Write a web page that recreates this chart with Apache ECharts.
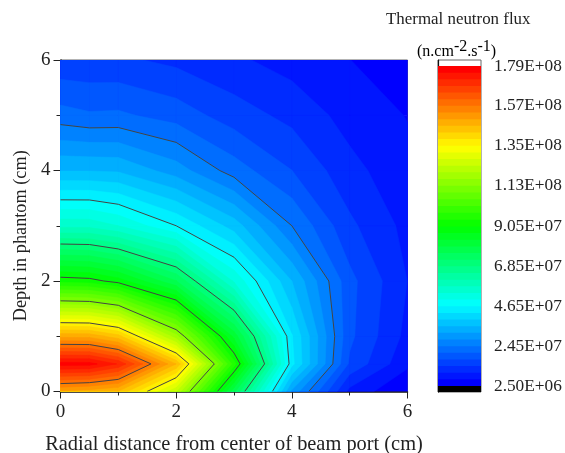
<!DOCTYPE html>
<html><head><meta charset="utf-8">
<script src="https://cdn.jsdelivr.net/npm/echarts@6/dist/echarts.min.js"></script>
<style>html,body{margin:0;padding:0;background:#fff}#c{width:565px;height:453px}</style>
</head><body><div id="c"></div>
<script>
// radial positions (cm) and depths (cm) of the sampled flux table
const radial = [0, 0.5, 1, 2, 3, 4, 5, 6];
const depth = [0, 0.5, 1, 2, 3, 4, 5, 6];
// flux, in units of 1E+06 n.cm-2.s-1, one list per depth
const fluxD0 = [149, 147.7, 145.8, 124, 77, 31, 8.7, 2.7];
const fluxD05 = [177, 176.8, 171.3, 146, 96, 44, 16.5, 6.9];
const fluxD1 = [148.7, 148.5, 143.8, 118, 82, 43.1, 18, 8.7];
const fluxD2 = [93, 92.2, 88.8, 76, 53.3, 35.5, 18.3, 9.8];
const fluxD3 = [56.4, 56.3, 53.8, 46.5, 37.5, 24.5, 14.3, 8.7];
const fluxD4 = [35.3, 35.3, 35, 30, 22.7, 17.2, 11, 7.3];
const fluxD5 = [22.3, 21.3, 21.5, 19.2, 15.3, 12.4, 8.4, 6];
const fluxD6 = [14.4, 14.3, 14.2, 12.6, 10.5, 8.3, 6.2, 4.6];
const fluxRows = [fluxD0, fluxD05, fluxD1, fluxD2, fluxD3, fluxD4, fluxD5, fluxD6];
// colour scale ticks
const tickValues = [2.5, 24.5, 46.5, 68.5, 90.5, 113, 135, 157, 179];
const tickLabels = ['2.50E+06', '2.45E+07', '4.65E+07', '6.85E+07', '9.05E+07', '1.13E+08', '1.35E+08', '1.57E+08', '1.79E+08'];
const lineLevels = [24.5, 46.5, 68.5, 90.5, 113, 135, 157];
const bandsPerTick = 6;

const bandCount = (tickValues.length - 1) * bandsPerTick;
const levelAt = k => {
  const i = Math.floor(k / bandsPerTick);
  if (i >= tickValues.length - 1) return tickValues[tickValues.length - 1];
  return tickValues[i] + (tickValues[i + 1] - tickValues[i]) * (k % bandsPerTick) / bandsPerTick;
};
const jet = [[0, 0, 255], [0, 255, 255], [0, 255, 0], [255, 255, 0], [255, 0, 0]];
const bandColor = k => {
  const t = k / (bandCount - 1) * (jet.length - 1);
  const i = Math.min(Math.floor(t), jet.length - 2), f = t - i;
  const c = jet[i].map((v, n) => Math.round(v + (jet[i + 1][n] - v) * f));
  return 'rgb(' + c.join(',') + ')';
};

// each table cell is a quad; contours join straight crossings on its edges
const quads = [];
for (let j = 0; j < depth.length - 1; j++) {
  for (let i = 0; i < radial.length - 1; i++) {
    const n = (a, b) => ({ x: radial[a], y: depth[b], v: fluxRows[b][a] });
    quads.push([n(i, j), n(i + 1, j), n(i + 1, j + 1), n(i, j + 1)]);
  }
}
const cross = (a, b, L) => {
  const f = (L - a.v) / (b.v - a.v);
  return { x: a.x + (b.x - a.x) * f, y: a.y + (b.y - a.y) * f, v: L };
};
const clipAbove = (poly, L) => {
  const out = [];
  poly.forEach((a, i) => {
    const b = poly[(i + 1) % poly.length];
    if (a.v >= L) out.push(a);
    if ((a.v >= L) !== (b.v >= L)) out.push(cross(a, b, L));
  });
  return out;
};
const crossings = (poly, L) => {
  const out = [];
  poly.forEach((a, i) => {
    const b = poly[(i + 1) % poly.length];
    if ((a.v >= L) !== (b.v >= L)) out.push(cross(a, b, L));
  });
  return out;
};

const bandData = [];
for (let k = 0; k < bandCount; k++) bandData.push([k]);
const barData = [[-100, tickValues[0], 'black']];
for (let k = 0; k < bandCount; k++) barData.push([levelAt(k), levelAt(bandCount), k]);

const chart = echarts.init(document.getElementById('c'), null, { renderer: 'canvas' });
const serif = '"Liberation Serif", "Times New Roman", serif';
chart.setOption({
  animation: false,
  backgroundColor: '#fff',
  textStyle: { fontFamily: serif },
  grid: [
    { left: 60.5, top: 60, width: 347, height: 331.5, show: true, outerBoundsMode: 'none', containLabel: false, borderColor: '#666', borderWidth: 1, backgroundColor: 'transparent' },
    { left: 438, top: 60, width: 43, height: 332, show: true, outerBoundsMode: 'none', containLabel: false, borderColor: '#666', borderWidth: 1, backgroundColor: 'transparent' }
  ],
  xAxis: [
    { type: 'value', gridIndex: 0, min: 0, max: 6, interval: 2, splitLine: { show: false },
      name: 'Radial distance from center of beam port (cm)', nameLocation: 'middle', nameGap: 43,
      nameTextStyle: { fontFamily: serif, fontSize: 20.4, color: '#222' },
      axisLine: { show: true, onZero: false, lineStyle: { color: '#111', width: 1.5 } },
      axisTick: { show: true, length: 7, lineStyle: { color: '#222', width: 1 } },
      minorTick: { show: true, splitNumber: 2, length: 4, lineStyle: { color: '#222', width: 1 } },
      axisLabel: { fontFamily: serif, fontSize: 19, color: '#222', margin: 11, showMinLabel: true, showMaxLabel: true } },
    { type: 'value', gridIndex: 1, min: 0, max: 1, show: false }
  ],
  yAxis: [
    { type: 'value', gridIndex: 0, min: 0, max: 6, interval: 2, splitLine: { show: false },
      name: 'Depth in phantom (cm)', nameLocation: 'middle', nameGap: 26,
      nameTextStyle: { fontFamily: serif, fontSize: 18.3, color: '#222', padding: [0, 20, 0, 0] },
      axisLine: { show: true, onZero: false, lineStyle: { color: '#111', width: 1.5 } },
      axisTick: { show: true, length: 7, lineStyle: { color: '#222', width: 1 } },
      minorTick: { show: true, splitNumber: 2, length: 4, lineStyle: { color: '#222', width: 1 } },
      axisLabel: { fontFamily: serif, fontSize: 19, color: '#222', margin: 10, showMinLabel: true, showMaxLabel: true } },
    { type: 'value', gridIndex: 1, position: 'right', min: -0.8, max: 182.3, splitLine: { show: false },
      axisLine: { show: true, lineStyle: { color: '#111', width: 1.2 } },
      axisTick: { show: true, length: 6, customValues: tickValues, lineStyle: { color: '#222', width: 1 } },
      axisLabel: { fontFamily: serif, fontSize: 17.3, color: '#222', margin: 13, customValues: tickValues,
        formatter: v => tickLabels[tickValues.indexOf(v)] } }
  ],
  graphic: [
    { type: 'text', left: 386, top: 11, style: { text: 'Thermal neutron flux', font: '16.9px ' + serif, fill: '#222' } },
    { type: 'text', left: 417, top: 39, style: {
        text: '{a|(n.cm}{s|-2}{a|.s}{s|-1}{a|)}',
        rich: {
          a: { fontFamily: serif, fontSize: 16, color: '#222' },
          s: { fontFamily: serif, fontSize: 16, color: '#222', padding: [0, 0, 9, 0] }
        } } }
  ],
  series: [
    { type: 'custom', xAxisIndex: 0, yAxisIndex: 0, clip: true, silent: true, data: bandData,
      renderItem: (params, api) => {
        const k = api.value(0), L = levelAt(k), color = bandColor(k), children = [];
        quads.forEach(q => {
          const poly = clipAbove(q, L);
          if (poly.length < 3) return;
          children.push({ type: 'polygon', shape: { points: poly.map(p => api.coord([p.x, p.y])) },
            style: { fill: color, stroke: color, lineWidth: 0.5 } });
        });
        return { type: 'group', children };
      } },
    { type: 'custom', xAxisIndex: 0, yAxisIndex: 0, clip: true, silent: true, data: lineLevels.map(v => [v]),
      renderItem: (params, api) => {
        const L = api.value(0), children = [];
        quads.forEach(q => {
          const s = crossings(q, L);
          if (s.length !== 2) return;
          const a = api.coord([s[0].x, s[0].y]), b = api.coord([s[1].x, s[1].y]);
          children.push({ type: 'line', shape: { x1: a[0], y1: a[1], x2: b[0], y2: b[1] },
            style: { stroke: '#444', lineWidth: 1 } });
        });
        return { type: 'group', children };
      } },
    { type: 'custom', xAxisIndex: 1, yAxisIndex: 1, clip: true, silent: true, data: barData,
      dimensions: ['lo', 'hi', 'band'],
      renderItem: (params, api) => {
        const d = barData[params.dataIndex];
        const p0 = api.coord([0, d[1]]), p1 = api.coord([1, d[0]]);
        return { type: 'rect', shape: { x: p0[0], y: p0[1], width: p1[0] - p0[0], height: p1[1] - p0[1] },
          style: { fill: d[2] === 'black' ? '#000' : bandColor(d[2]) } };
      } }
  ]
});
</script></body></html>
